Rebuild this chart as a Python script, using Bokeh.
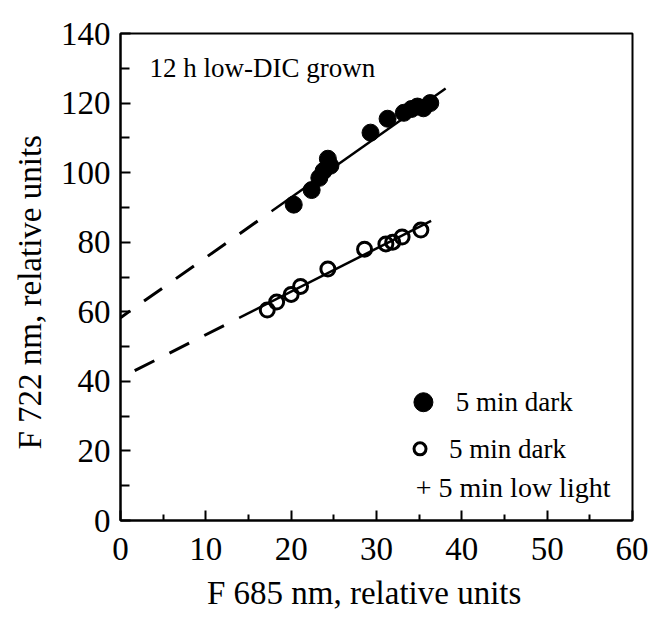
from bokeh.plotting import figure
from bokeh.models import Range1d, FixedTicker, Label, Title
from bokeh.embed import file_html
from bokeh.resources import INLINE

# F685 / F722 fluorescence pairs, 12 h low-DIC grown cells
dark_x = [20.3, 22.4, 23.3, 23.8, 24.3, 24.6, 29.3, 31.3, 33.2, 34.1, 34.8, 35.5, 36.3]
dark_y = [90.8, 95.0, 98.5, 100.5, 104.0, 102.0, 111.5, 115.5, 117.2, 118.3, 119.0, 118.5, 120.0]

light_x = [17.2, 18.3, 20.0, 21.1, 24.3, 28.6, 31.1, 31.9, 33.0, 35.2]
light_y = [60.5, 62.8, 65.0, 67.3, 72.3, 78.0, 79.5, 80.0, 81.5, 83.5]

# regression lines: intercept, slope, and the x span drawn solid
dark_fit = {"a": 58.3, "b": 1.73, "x0": 17.7, "x1": 38.1}
light_fit = {"a": 41.0, "b": 1.24, "x0": 13.9, "x1": 36.4}

x_ticks = [0, 10, 20, 30, 40, 50, 60]
x_minor = [5, 15, 25, 35, 45, 55]
y_ticks = [0, 20, 40, 60, 80, 100, 120, 140]
y_minor = [10, 30, 50, 70, 90, 110, 130]

SERIF = "Liberation Serif"

p = figure(width=648, height=620,
           x_range=Range1d(0, 60), y_range=Range1d(0, 140),
           output_backend="svg", toolbar_location=None,
           min_border_left=120, min_border_right=16,
           min_border_top=33, min_border_bottom=100)
p.grid.visible = False
p.background_fill_color = "white"
p.border_fill_color = "white"
p.outline_line_color = "black"
p.outline_line_width = 2

p.xaxis.ticker = FixedTicker(ticks=x_ticks, minor_ticks=x_minor)
p.yaxis.ticker = FixedTicker(ticks=y_ticks, minor_ticks=y_minor)
for ax in (p.xaxis, p.yaxis):
    ax.axis_line_width = 2
    ax.axis_line_color = "black"
    ax.major_tick_in = 10
    ax.major_tick_out = 0
    ax.minor_tick_in = 6
    ax.minor_tick_out = 0
    ax.major_tick_line_width = 2
    ax.minor_tick_line_width = 2
    ax.major_tick_line_color = "black"
    ax.minor_tick_line_color = "black"
    ax.major_label_text_font = SERIF
    ax.major_label_text_font_size = "33px"
    ax.major_label_text_color = "black"
p.yaxis.minor_tick_in = 9
p.xaxis.major_label_standoff = 17
p.yaxis.major_label_standoff = 10

# x title sits a little left of the frame centre (trailing no-break spaces)
p.xaxis.axis_label = "F 685 nm, relative units\u00a0\u00a0\u00a0"
p.xaxis.axis_label_standoff = 12
p.xaxis.axis_label_text_font = SERIF
p.xaxis.axis_label_text_font_size = "33px"
p.xaxis.axis_label_text_font_style = "normal"
p.xaxis.axis_label_text_color = "black"

y_title = Title(text="F 722 nm, relative units", align="left", offset=71,
                vertical_align="middle",
                text_font=SERIF, text_font_size="33px", text_font_style="normal",
                text_color="#000000", standoff=18)
p.add_layout(y_title, "left")


def fit_line(fit, color="black"):
    a, b, x0, x1 = fit["a"], fit["b"], fit["x0"], fit["x1"]
    # dashed extrapolation back to the y axis
    p.line([x0, 0], [a + b * x0, a], line_color=color, line_width=3,
           line_dash="22 17", line_dash_offset=22)
    # solid fitted part
    p.line([x0, x1], [a + b * x0, a + b * x1], line_color=color, line_width=2.5)


fit_line(dark_fit)
fit_line(light_fit)

p.scatter(dark_x, dark_y, size=17, marker="circle",
          fill_color="black", line_color="black")
p.scatter(light_x, light_y, size=14, marker="circle",
          fill_color=None, line_color="black", line_width=3)

# key
p.scatter([35.5], [34.0], size=19, marker="circle", fill_color="black", line_color="black")
p.scatter([35.1], [20.6], size=12, marker="circle", fill_color="white",
          line_color="black", line_width=3)


def note(x, y, text, size="27px", **kw):
    lab = Label(x=x, y=y, text=text, text_font=SERIF, text_font_size=size,
                text_color="black", text_baseline="middle", **kw)
    p.add_layout(lab)


note(39.3, 34.0, "5 min dark")
note(38.5, 20.6, "5 min dark")
note(34.6, 9.5, "+ 5 min low light", size="28px")
note(3.4, 130.0, "12 h low-DIC grown")

open("out.html", "w").write(file_html(p, INLINE))
